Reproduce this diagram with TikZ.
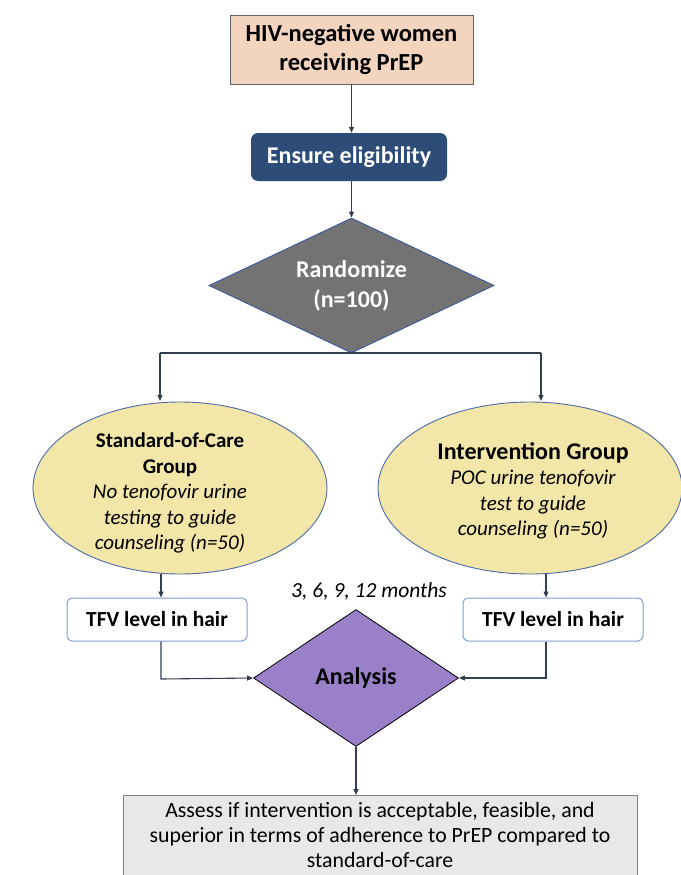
\documentclass[tikz,border=0pt]{standalone}
\usepackage{fontspec}
\setmainfont{Carlito}
\usetikzlibrary{shapes.geometric,arrows.meta}
\definecolor{peach}{HTML}{F3D4BE}
\definecolor{navy}{HTML}{2D4C78}
\definecolor{rgray}{HTML}{737373}
\definecolor{rborder}{HTML}{3A5A9A}
\definecolor{ell}{HTML}{F2E7A8}
\definecolor{ellb}{HTML}{4B6AA6}
\definecolor{tfvb}{HTML}{7D9DD2}
\definecolor{purp}{HTML}{9A80C8}
\definecolor{lgray}{HTML}{E8E8E8}
\definecolor{conn}{HTML}{333F50}
\tikzset{
  arr/.style={draw=conn, line width=1.1pt, -{Triangle[length=6pt,width=5pt]}},
  ln/.style={draw=conn, line width=1.1pt},
  ellbox/.style={ellipse, draw=ellb, line width=0.9pt, fill=ell, inner sep=0pt},
  elltext/.style={align=center, inner sep=0pt, font=\fontsize{21}{25.5}\selectfont},
  tfvbox/.style={draw=tfvb, line width=1pt, rounded corners=5pt, fill=white, minimum width=180pt, minimum height=43pt, inner sep=0pt, font=\fontsize{21.5}{24}\selectfont\bfseries},
}
\begin{document}
\begin{tikzpicture}[x=1pt,y=-1pt]
\useasboundingbox[fill=white] (0,0) rectangle (680,875);
\node[draw=gray!80!black, line width=0.8pt, fill=peach, minimum width=243pt, minimum height=69pt, inner sep=0pt, align=center, font=\fontsize{24.5}{29}\selectfont\bfseries] (hiv) at (351.5,49.5) {HIV-negative women\\receiving PrEP};
\node[fill=navy, rounded corners=7pt, minimum width=196pt, minimum height=48pt, inner sep=0pt, text=white, font=\fontsize{24}{28}\selectfont\bfseries] (ens) at (349,157) {Ensure eligibility};
\node[diamond, draw=rborder, line width=0.9pt, fill=rgray, aspect=2.1, minimum width=285pt, minimum height=135pt, inner sep=0pt, text=white, align=center, font=\fontsize{24}{30}\selectfont\bfseries] (rand) at (351.5,285.5) {Randomize\\(n=100)};
\draw[arr] (hiv) -- (hiv |- ens.north);
\draw[arr] (ens.south -| hiv) -- (rand.north);
\coordinate (sl) at (160,353);
\coordinate (sr) at (541,353);
\coordinate (slb) at (160,401);
\coordinate (srb) at (541,401);
\draw[ln] (sl) -- (sr);
\node[ellbox, minimum width=294pt, minimum height=172pt] (soc) at (180,488) {};
\node[elltext] (socT) at (170,493) {{\bfseries Standard-of-Care}\\{\bfseries Group}\\\itshape No tenofovir urine\\\itshape testing to guide\\\itshape counseling (n=50)};
\node[ellbox, minimum width=304pt, minimum height=172pt] (int) at (530,488) {};
\node[elltext] (intT) at (533,491) {{\fontsize{24}{25.5}\selectfont\bfseries Intervention Group}\\\itshape POC urine tenofovir\\\itshape test to guide\\\itshape counseling (n=50)};
\draw[arr] (sl) -- (slb);
\draw[arr] (sr) -- (srb);
\node[tfvbox] (tl) at (157,619.5) {TFV level in hair};
\node[tfvbox] (tr) at (553,619.5) {TFV level in hair};
\coordinate (la) at (161,574);
\coordinate (ra) at (546,574);
\coordinate (lb) at (161,679);
\coordinate (rb) at (546,678);
\draw[arr] (la) -- (la |- tl.north);
\draw[arr] (ra) -- (ra |- tr.north);
\node[font=\fontsize{21.5}{24}\selectfont\itshape] (mon) at (369,591) {3, 6, 9, 12 months};
\node[diamond, draw=black, line width=0.8pt, fill=purp, aspect=1.5, minimum width=205pt, minimum height=137pt, inner sep=0pt, font=\fontsize{24}{28}\selectfont\bfseries] (ana) at (356,678) {Analysis};
\draw[arr] (la |- tl.south) -- (lb) -- (ana.west);
\draw[arr] (ra |- tr.south) -- (rb) -- (ana.east);
\node[draw=gray, line width=0.8pt, fill=lgray, minimum width=514pt, minimum height=86pt, inner sep=0pt, anchor=north] (res) at (380,795) {};
\node[align=center, inner sep=0pt, font=\fontsize{21.8}{25.5}\selectfont] (resT) at (380,835) {Assess if intervention is acceptable, feasible, and\\superior in terms of adherence to PrEP compared to\\standard-of-care};
\draw[arr] (ana.south) -- (ana.south |- res.north);
\end{tikzpicture}
\end{document}
